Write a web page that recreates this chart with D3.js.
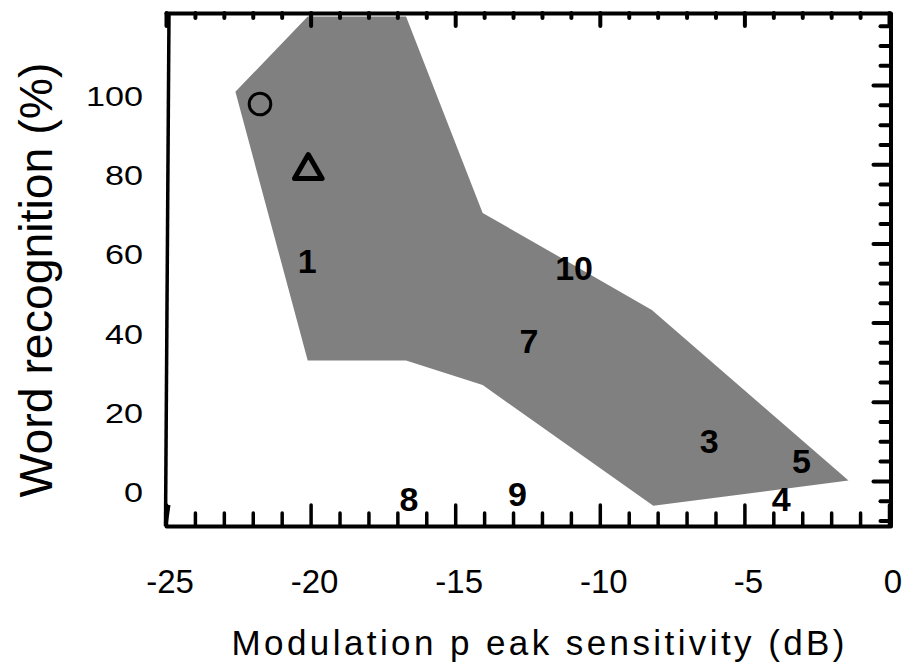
<!DOCTYPE html>
<html>
<head>
<meta charset="utf-8">
<script src="https://cdn.jsdelivr.net/npm/d3@7"></script>
<style>
  body { margin: 0; background: #fff; }
  svg { display: block; }
  text { font-family: "Liberation Sans", Arial, sans-serif; fill: #000; }
  .axis path, .axis line { stroke: #000; stroke-linecap: round; }
</style>
</head>
<body>
<div id="chart"></div>
<script>
// Axis ticks
const xTicks = [-25, -20, -15, -10, -5, 0];
const yTicks = [0, 20, 40, 60, 80, 100];

// Grey region (outline vertices)
const areaX = [-22.6, -20.1, -16.7, -14.05, -8.2, -1.4, -8.15, -14.05, -16.7, -20.1];
const areaY = [98.3, 117.3, 117.3, 67.7, 43.2, 0.1, -6.3, 24.2, 30.4, 30.4];

// Numbered subjects
const subjects = ["1", "10", "7", "3", "5", "4", "8", "9"];
const subjX = [-20.12, -10.89, -12.45, -6.22, -3.03, -3.73, -16.6, -12.85];
const subjY = [55.7, 53.8, 35.5, 10.2, 5.2, -4.5, -4.5, -3.2];

// Open symbols
const circleX = [-21.75], circleY = [95.2];
const triangleX = [-20.08], triangleY = [78.4];

function createChart() {
    const W = 903, H = 664;
    const svg = d3.select("#chart").append("svg")
        .attr("width", W)
        .attr("height", H);

    const x = d3.scaleLinear().domain([-25, 0]).range([166, 889]);
    const y = d3.scaleLinear().domain([-11.4, 118.2]).range([526, 13]);

    // grey area
    const pts = areaX.map((d, i) => [x(d), y(areaY[i])]);
    svg.append("path")
        .attr("d", d3.line()(pts) + "Z")
        .style("fill", "#808080");

    // axes
    const xMinor = d3.range(-24, 0, 1).filter(d => d % 5 !== 0);
    const yMinor = d3.range(-10, 120, 5).filter(d => d % 20 !== 0);

    function drawAxis(axis, tr, width, keepDomain) {
        const g = svg.append("g").attr("class", "axis")
            .attr("transform", tr)
            .call(axis.tickSizeOuter(0).tickFormat(""));
        g.selectAll("line").style("stroke-width", width);
        if (keepDomain) g.select(".domain").style("stroke-width", 4);
        else g.select(".domain").remove();
        g.selectAll("text").remove();
    }

    // bottom (ticks pointing up)
    drawAxis(d3.axisTop(x).tickValues(xMinor).tickSizeInner(13), "translate(0,526)", 3.5, false);
    drawAxis(d3.axisTop(x).tickValues(xTicks).tickSizeInner(21), "translate(0,526)", 3.5, true);
    // top (ticks pointing down)
    drawAxis(d3.axisBottom(x).tickValues(xMinor).tickSizeInner(5), "translate(0,13)", 4, false);
    drawAxis(d3.axisBottom(x).tickValues(xTicks).tickSizeInner(13), "translate(0,13)", 4, true);
    // right (ticks pointing left)
    drawAxis(d3.axisLeft(y).tickValues(yMinor).tickSizeInner(10), "translate(890.5,0)", 4, false);
    drawAxis(d3.axisLeft(y).tickValues(yTicks).tickSizeInner(17), "translate(890.5,0)", 4, true);

    // left axis: a plain, slightly slanted line
    svg.append("path")
        .attr("d", `M169,${y(118.2)}L165.5,${y(-11.4)}`)
        .style("stroke", "#000").style("stroke-width", 3.5).style("fill", "none");
    svg.append("path")
        .attr("d", `M169,505L166,${y(-11.4)}`)
        .style("stroke", "#000").style("stroke-width", 3).style("fill", "none");

    // tick labels
    svg.selectAll(".ylab")
        .data(yTicks)
        .enter().append("text")
        .attr("class", "ylab")
        .attr("x", 143)
        .attr("y", d => y(d) + 11)
        .attr("dy", "0.36em")
        .style("text-anchor", "end")
        .style("font-size", "28px")
        .text(d => d)
        .each(function() {
            const w = this.getComputedTextLength();
            d3.select(this).attr("textLength", w * 1.22).attr("lengthAdjust", "spacingAndGlyphs");
        });

    svg.selectAll(".xlab")
        .data(xTicks)
        .enter().append("text")
        .attr("class", "xlab")
        .attr("x", d => x(d) + 4)
        .attr("y", 593)
        .style("text-anchor", "middle")
        .style("font-size", "33px")
        .text(d => d);

    // axis titles
    svg.append("text")
        .attr("x", 538)
        .attr("y", 655)
        .style("text-anchor", "middle")
        .style("font-size", "35px")
        .attr("textLength", 613)
        .attr("lengthAdjust", "spacing")
        .text("Modulation p eak sensitivity (dB)");

    svg.append("text")
        .attr("transform", "translate(52,280) rotate(-90)")
        .style("text-anchor", "middle")
        .style("font-size", "47px")
        .attr("textLength", 435)
        .attr("lengthAdjust", "spacingAndGlyphs")
        .text("Word recognition (%)");

    // numbered subjects
    svg.selectAll(".subj")
        .data(subjects)
        .enter().append("text")
        .attr("class", "subj")
        .attr("x", (d, i) => x(subjX[i]))
        .attr("y", (d, i) => y(subjY[i]))
        .attr("dy", "0.36em")
        .style("text-anchor", "middle")
        .style("font-size", "34px")
        .style("font-weight", "bold")
        .text(d => d);

    // open circle
    svg.selectAll(".circ")
        .data(circleX)
        .enter().append("circle")
        .attr("class", "circ")
        .attr("cx", d => x(d))
        .attr("cy", (d, i) => y(circleY[i]))
        .attr("r", 10.8)
        .style("fill", "none")
        .style("stroke", "#000")
        .style("stroke-width", 3);

    // open triangle
    svg.selectAll(".tri")
        .data(triangleX)
        .enter().append("path")
        .attr("class", "tri")
        .attr("transform", (d, i) => `translate(${x(d)},${y(triangleY[i])})`)
        .attr("d", d3.symbol().type(d3.symbolTriangle).size(330))
        .style("fill", "none")
        .style("stroke", "#000")
        .style("stroke-width", 5)
        .style("stroke-linejoin", "round");
}

createChart();
</script>
</body>
</html>
